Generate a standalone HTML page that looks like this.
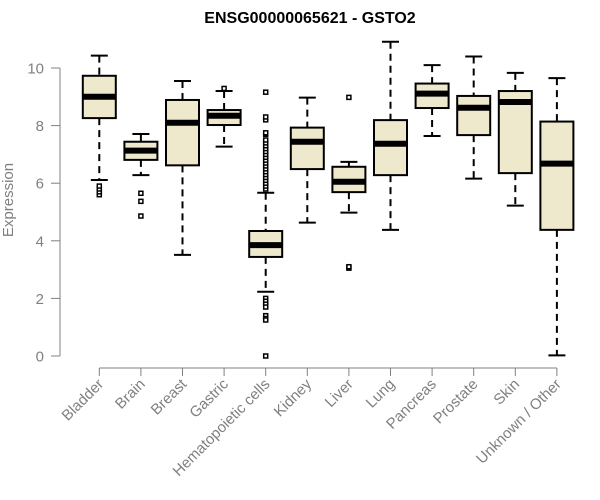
<!DOCTYPE html>
<html><head><meta charset="utf-8"><style>
html,body{margin:0;padding:0;background:#fff;}
svg{display:block;font-family:"Liberation Sans",Arial,sans-serif;}
</style></head><body>
<svg id="chart" width="600" height="500"></svg>
<script>
const categories=["Bladder","Brain","Breast","Gastric","Hematopoietic cells","Kidney","Liver","Lung","Pancreas","Prostate","Skin","Unknown / Other"];
const whiskerLow=[6.11,6.28,3.51,7.27,2.23,4.63,4.98,4.38,7.64,6.16,5.22,0.02];
const q1=[8.26,6.81,6.62,8.02,3.44,6.49,5.69,6.28,8.61,7.67,6.35,4.38];
const medians=[9.0,7.13,8.1,8.34,3.85,7.44,6.05,7.37,9.11,8.62,8.82,6.68];
const q3=[9.73,7.44,8.89,8.54,4.34,7.93,6.57,8.19,9.46,9.03,9.2,8.14];
const whiskerHigh=[10.43,7.71,9.55,9.2,5.67,8.97,6.74,10.91,10.1,10.4,9.83,9.65];
const outlierCat=[0,0,0,0,1,1,1,3,4,4,4,4,4,4,4,4,4,4,4,4,4,4,4,4,4,4,4,4,4,4,4,4,4,4,4,4,4,4,4,6,6,6];
const outlierVal=[5.6,5.7,5.8,5.9,5.65,5.37,4.86,9.29,5.8,5.9,6.0,6.1,6.2,6.3,6.4,6.5,6.6,6.7,6.8,6.9,7.0,7.1,7.2,7.3,7.4,7.5,7.7,7.75,8.2,8.3,9.16,2.0,1.9,1.8,1.7,1.4,1.3,1.25,0.0,8.98,3.05,3.1];
const yTicks=[0,2,4,6,8,10];
const NS="http://www.w3.org/2000/svg";
const svg=document.getElementById("chart");
const yScale=v=>356-v*28.8;
const xScale=i=>99.3+i*41.6;
function mk(tag,attrs,parent){const e=document.createElementNS(NS,tag);for(const k in attrs)e.setAttribute(k,attrs[k]);(parent||svg).appendChild(e);return e;}
const title=mk("text",{x:310,y:23,"text-anchor":"middle","font-size":"16","font-weight":"bold",fill:"#000"});
title.textContent="ENSG00000065621 - GSTO2";


const yl=mk("text",{x:0,y:0,transform:"translate(13,200) rotate(-90)","text-anchor":"middle","font-size":"15",fill:"#808080"});
yl.textContent="Expression";


const yAxis=mk("line",{x1:60,x2:60,y1:yScale(10),y2:yScale(0),stroke:"#808080","stroke-width":1});


yTicks.forEach(t=>{
 const tk=mk("line",{x1:51,x2:60,y1:yScale(t),y2:yScale(t),stroke:"#808080"});
 
 
 const lb=mk("text",{x:44,y:yScale(t)+5.5,"text-anchor":"end","font-size":"15",fill:"#808080"});
 lb.textContent=t;
 
 
});
const xAxis=mk("line",{x1:xScale(0),x2:xScale(categories.length-1),y1:368,y2:368,stroke:"#808080"});


categories.forEach((c,i)=>{
 const x=xScale(i);
 const tk=mk("line",{x1:x,x2:x,y1:368,y2:376,stroke:"#808080"});
 
 
 const lb=mk("text",{x:0,y:0,transform:`translate(${x+5},${385}) rotate(-45)`,"text-anchor":"end","font-size":"15",fill:"#808080"});
 lb.textContent=c;
 
 
 const g=mk("g",{});
 
 
 mk("line",{x1:x,x2:x,y1:yScale(whiskerHigh[i]),y2:yScale(q3[i]),stroke:"#000","stroke-width":2,"stroke-dasharray":"7,5"},g);
 mk("line",{x1:x,x2:x,y1:yScale(q1[i]),y2:yScale(whiskerLow[i]),stroke:"#000","stroke-width":2,"stroke-dasharray":"7,5"},g);
 mk("line",{x1:x-8.5,x2:x+8.5,y1:yScale(whiskerHigh[i]),y2:yScale(whiskerHigh[i]),stroke:"#000","stroke-width":2},g);
 mk("line",{x1:x-8.5,x2:x+8.5,y1:yScale(whiskerLow[i]),y2:yScale(whiskerLow[i]),stroke:"#000","stroke-width":2},g);
 mk("rect",{x:x-16.5,y:yScale(q3[i]),width:33,height:yScale(q1[i])-yScale(q3[i]),fill:"#EEE8CD",stroke:"#000","stroke-width":2},g);
 mk("line",{x1:x-16.5,x2:x+16.5,y1:yScale(medians[i]),y2:yScale(medians[i]),stroke:"#000","stroke-width":6},g);
});
outlierVal.forEach((v,j)=>{
 const x=xScale(outlierCat[j]);
 const p=mk("rect",{x:x-2,y:yScale(v)-2,width:4,height:4,fill:"#fff",stroke:"#000","stroke-width":1.5});
 
 
});
</script>
</body></html>
